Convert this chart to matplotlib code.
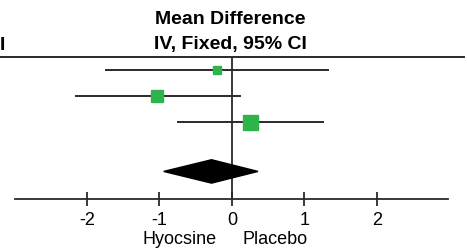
import matplotlib.pyplot as plt
from matplotlib.patches import Polygon

plt.rcParams["font.family"] = ["Liberation Sans", "DejaVu Sans"]

# study estimates (mean difference, 95% CI)
means = [-0.21, -1.03, 0.25]
lows = [-1.74, -2.15, -0.74]
highs = [1.33, 0.11, 1.26]
weights = [8, 12, 15]  # square side, px
rows = [1, 2, 3]

# pooled estimate
pooled = -0.28
pooled_low = -0.94
pooled_high = 0.36
pooled_row = 4.9

ticks = [-2, -1, 0, 1, 2]
green = "#2fb34b"
line_col = "#2a2a2a"

W, H = 467, 249
fig = plt.figure(figsize=(W / 100, H / 100), dpi=100)
ax = fig.add_axes([15 / W, (H - 199) / H, (448 - 15) / W, (199 - 57) / H])
ax.set_xlim(-2.99, 2.98)
ax.set_ylim(5.96, 0.5)

for m, lo, hi, w, r in zip(means, lows, highs, weights, rows):
    ax.plot([lo, hi], [r, r], color=line_col, lw=1.4, zorder=2)
    ax.plot(m, r, marker="s", ms=w * 0.72, color=green, mec=green, zorder=3)

ax.axvline(0, color=line_col, lw=1.3, zorder=1)

diamond = Polygon(
    [[pooled_low, pooled_row], [pooled, pooled_row - 0.45],
     [pooled_high, pooled_row], [pooled, pooled_row + 0.45]],
    closed=True, color="black", zorder=4)
ax.add_patch(diamond)

for s in ["left", "right", "top"]:
    ax.spines[s].set_visible(False)
ax.spines["bottom"].set_color(line_col)
ax.spines["bottom"].set_linewidth(1.3)
ax.set_yticks([])
ax.set_xticks(ticks)
ax.set_xticklabels([str(t) for t in ticks])
ax.tick_params(axis="x", direction="inout", length=10, width=1.3,
               color=line_col, labelsize=13, pad=4)

# header line across the table
fig.add_artist(plt.Line2D([0, 464 / W], [(H - 57) / H] * 2,
                          color=line_col, lw=1.4))

fig.text(230 / W, (H - 20) / H, "Mean Difference", ha="center", va="center",
         fontsize=14, fontweight="bold")
fig.text(230 / W, (H - 45) / H, "IV, Fixed, 95% CI", ha="center", va="center",
         fontsize=14, fontweight="bold")
fig.text(0, (H - 45) / H, "I", ha="left", va="center",
         fontsize=14, fontweight="bold")

fig.text(217 / W, (H - 239) / H, "Hyocsine", ha="right", va="center", fontsize=13)
fig.text(242 / W, (H - 239) / H, "Placebo", ha="left", va="center", fontsize=13)

fig.savefig("out.png", dpi=100)
